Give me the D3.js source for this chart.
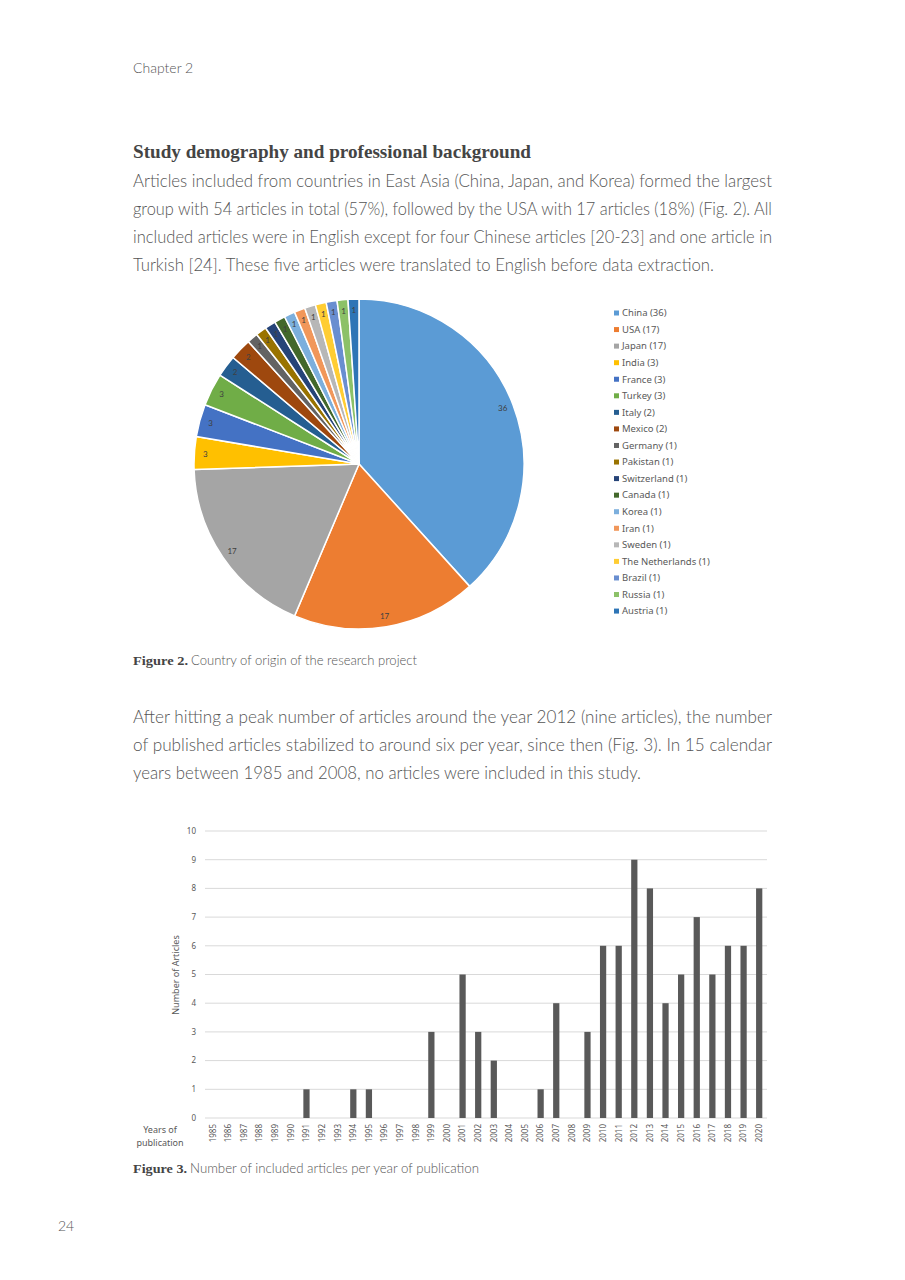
<!DOCTYPE html>
<html><head><meta charset="utf-8">
<script src="https://cdn.jsdelivr.net/npm/d3@7"></script>
<style>body{margin:0;background:#fff}svg{display:block}</style>
</head><body>
<script>
// ---------- data ----------
const countries = ["China","USA","Japan","India","France","Turkey","Italy","Mexico","Germany","Pakistan","Switzerland","Canada","Korea","Iran","Sweden","The Netherlands","Brazil","Russia","Austria"];
const countryCounts = [36,17,17,3,3,3,2,2,1,1,1,1,1,1,1,1,1,1,1];
const countryColors = ["#5B9BD5","#ED7D31","#A5A5A5","#FFC000","#4472C4","#70AD47","#255E91","#9E480E","#636363","#997300","#264478","#43682B","#7CAFDD","#F1975A","#B7B7B7","#FFCD33","#698ED0","#8CC168","#2E75B6"];
const years = ["1985","1986","1987","1988","1989","1990","1991","1992","1993","1994","1995","1996","1997","1998","1999","2000","2001","2002","2003","2004","2005","2006","2007","2008","2009","2010","2011","2012","2013","2014","2015","2016","2017","2018","2019","2020"];
const articles = [0,0,0,0,0,0,1,0,0,1,1,0,0,0,3,0,5,3,2,0,0,1,4,0,3,6,6,9,8,4,5,7,5,6,6,8];
const yTicks = [0,1,2,3,4,5,6,7,8,9,10];

const para1 = ["Articles included from countries in East Asia (China, Japan, and Korea) formed the largest",
 "group with 54 articles in total (57%), followed by the USA with 17 articles (18%) (Fig. 2). All",
 "included articles were in English except for four Chinese articles [20-23] and one article in",
 "Turkish [24]. These five articles were translated to English before data extraction."];
const para2 = ["After hitting a peak number of articles around the year 2012 (nine articles), the number",
 "of published articles stabilized to around six per year, since then (Fig. 3). In 15 calendar",
 "years between 1985 and 2008, no articles were included in this study."];

// ---------- page ----------
const svg = d3.select("body").append("svg").attr("width",905).attr("height",1280);
const txtCol = "#555";
const sans = "Lato, 'Open Sans', sans-serif";
const serif = "'Liberation Serif', 'DejaVu Serif', serif";

svg.append("text").attr("x",133).attr("y",73).attr("font-family",sans).attr("font-weight",300)
  .attr("font-size",14).attr("fill",txtCol).text("Chapter 2");

svg.append("text").attr("x",133).attr("y",158).attr("font-family",serif).attr("font-weight","bold")
  .attr("font-size",19).attr("fill","#444").attr("textLength",398).attr("lengthAdjust","spacingAndGlyphs")
  .text("Study demography and professional background");

function para(lines, y0, widths){
  lines.forEach((l,i)=>{
    svg.append("text").attr("x",133).attr("y",y0+i*28).attr("font-family",sans).attr("font-weight",300)
      .attr("font-size",17).attr("fill",txtCol).attr("textLength",widths[i]).attr("lengthAdjust","spacingAndGlyphs").text(l);
  });
}
para(para1, 187, [639,639,639,581]);
para(para2, 723, [639,639,508]);

function caption(y, bold, rest, wb, wr){
  svg.append("text").attr("x",133).attr("y",y).attr("font-family",serif).attr("font-weight","bold")
    .attr("font-size",13).attr("fill","#444").attr("textLength",wb).attr("lengthAdjust","spacingAndGlyphs").text(bold);
  svg.append("text").attr("x",133+wb+3).attr("y",y).attr("font-family",sans).attr("font-weight",300)
    .attr("font-size",13.5).attr("fill",txtCol).attr("textLength",wr).attr("lengthAdjust","spacingAndGlyphs").text(rest);
}
caption(665, "Figure 2.", "Country of origin of the research project", 55, 226);
caption(1173, "Figure 3.", "Number of included articles per year of publication", 54, 289);

svg.append("text").attr("x",58).attr("y",1231).attr("font-family",sans).attr("font-weight",300)
  .attr("font-size",14).attr("fill",txtCol).text("24");

// ---------- pie ----------
const cx = 359, cy = 464, R = 165;
const pie = d3.pie().sort(null).value(d=>d.v);
const pdata = pie(countries.map((c,i)=>({c, v:countryCounts[i], col:countryColors[i]})));
const arc = d3.arc().innerRadius(0).outerRadius(R);
const labelArc = d3.arc().innerRadius(154).outerRadius(154);
const pg = svg.append("g").attr("transform",`translate(${cx},${cy})`);
pg.selectAll("path").data(pdata).join("path").attr("d",arc).attr("fill",d=>d.data.col)
  .attr("stroke","#fff").attr("stroke-width",1.5).attr("stroke-linejoin","round");
pg.selectAll("text").data(pdata).join("text")
  .attr("transform",d=>`translate(${labelArc.centroid(d)})`)
  .attr("text-anchor","middle").attr("dy","0.35em").attr("font-family",sans)
  .attr("font-size",8).attr("fill","#404040").text(d=>d.data.v);

// legend
const lg = svg.append("g");
const rowY = i => 313 + i*16.56;
lg.selectAll("rect").data(pdata).join("rect").attr("x",614).attr("y",(d,i)=>rowY(i)-2.5)
  .attr("width",5).attr("height",5).attr("fill",d=>d.data.col);
lg.selectAll("text").data(pdata).join("text").attr("x",622).attr("y",(d,i)=>rowY(i)).attr("dy","0.35em")
  .attr("font-family","'Noto Sans', sans-serif").attr("font-size",9.5).attr("fill","#595959")
  .text(d=>`${d.data.c} (${d.data.v})`);

// ---------- bar chart ----------
const x = d3.scaleBand().domain(years).range([205,767]).paddingInner(0.6).paddingOuter(0.3);
const y = d3.scaleLinear().domain([0,10]).range([1118,831]);
const bg = svg.append("g");
bg.selectAll("line.grid").data(yTicks).join("line").attr("class","grid")
  .attr("x1",205).attr("x2",767).attr("y1",d=>y(d)).attr("y2",d=>y(d))
  .attr("stroke","#d9d9d9").attr("stroke-width",1);
bg.selectAll("text.yt").data(yTicks).join("text").attr("class","yt")
  .attr("x",196).attr("y",d=>y(d)).attr("dy","0.35em").attr("text-anchor","end")
  .attr("font-family","'Noto Sans', sans-serif").attr("font-size",8).attr("fill","#595959").text(d=>d);
bg.selectAll("rect").data(years.map((yr,i)=>({yr, v:articles[i]}))).join("rect")
  .attr("x",d=>x(d.yr)).attr("width",x.bandwidth()).attr("y",d=>y(d.v)).attr("height",d=>y(0)-y(d.v))
  .attr("fill","#595959");
bg.selectAll("text.xt").data(years).join("text").attr("class","xt")
  .attr("transform",d=>`translate(${x(d)+x.bandwidth()/2},1124) rotate(-90)`)
  .attr("text-anchor","end").attr("dy","0.35em")
  .attr("font-family","'Noto Sans', sans-serif").attr("font-size",8).attr("fill","#595959").text(d=>d);
bg.append("text").attr("transform","translate(176,975) rotate(-90)").attr("text-anchor","middle").attr("dy","0.35em")
  .attr("font-family","'Noto Sans', sans-serif").attr("font-size",9).attr("fill","#595959").text("Number of Articles");
bg.append("text").attr("x",160).attr("y",1130).attr("dy","0.35em").attr("text-anchor","middle")
  .attr("font-family","'Noto Sans', sans-serif").attr("font-size",9).attr("fill","#595959").text("Years of");
bg.append("text").attr("x",160).attr("y",1143).attr("dy","0.35em").attr("text-anchor","middle")
  .attr("font-family","'Noto Sans', sans-serif").attr("font-size",9).attr("fill","#595959").text("publication");
</script>
</body></html>
